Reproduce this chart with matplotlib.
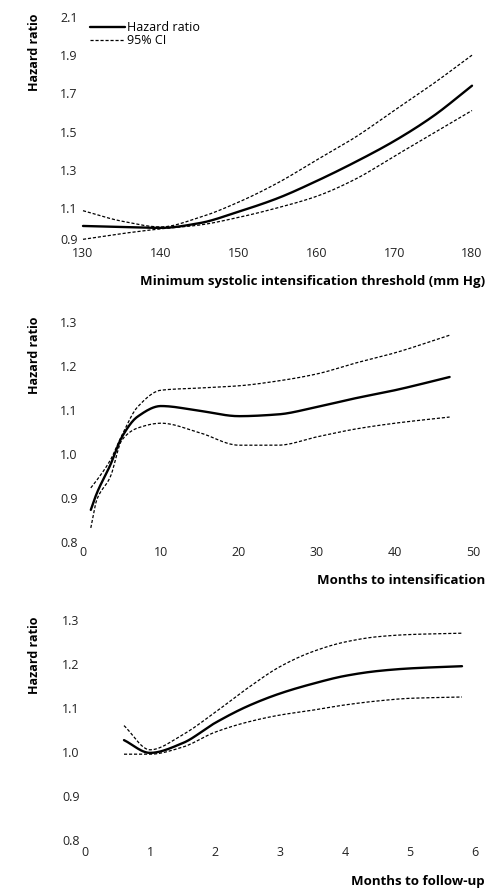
import matplotlib
matplotlib.use("Agg")
import matplotlib.pyplot as plt
import matplotlib.transforms as mtransforms
import numpy as np

plt.rcParams['font.family'] = ['Open Sans', 'DejaVu Sans']

# Panel 1: minimum systolic intensification threshold
p1_x = [130, 135, 140, 145, 150, 155, 160, 165, 170, 175, 180]
p1_hr = [1.005, 1.00, 0.995, 1.02, 1.08, 1.15, 1.24, 1.34, 1.45, 1.58, 1.74]
p1_up = [1.085, 1.03, 1.00, 1.05, 1.13, 1.23, 1.35, 1.47, 1.61, 1.75, 1.90]
p1_lo = [0.935, 0.965, 0.99, 1.01, 1.05, 1.10, 1.16, 1.25, 1.37, 1.49, 1.61]

# Panel 2: months to intensification
p2_x = [1, 1.75, 3.5, 5, 7, 10, 15, 20, 25, 30, 35, 40, 47]
p2_hr = [0.873, 0.91, 0.975, 1.039, 1.085, 1.109, 1.098, 1.086, 1.09, 1.107, 1.127, 1.145, 1.175]
p2_up = [0.923, 0.94, 0.986, 1.043, 1.107, 1.145, 1.15, 1.155, 1.166, 1.182, 1.207, 1.23, 1.27]
p2_lo = [0.832, 0.895, 0.948, 1.032, 1.059, 1.07, 1.048, 1.02, 1.02, 1.039, 1.057, 1.07, 1.084]

# Panel 3: months to follow-up
p3_x = [0.6, 1.0, 1.5, 2.0, 2.5, 3.0, 3.5, 4.0, 4.5, 5.0, 5.8]
p3_hr = [1.027, 0.998, 1.02, 1.066, 1.104, 1.133, 1.155, 1.173, 1.184, 1.19, 1.195]
p3_up = [1.06, 1.005, 1.039, 1.09, 1.145, 1.194, 1.228, 1.25, 1.262, 1.267, 1.27]
p3_lo = [0.995, 0.995, 1.011, 1.045, 1.068, 1.084, 1.095, 1.107, 1.116, 1.122, 1.125]

p1_xticks = [130, 140, 150, 160, 170, 180]
p1_yticks = [0.9, 1.1, 1.3, 1.5, 1.7, 1.9, 2.1]
p2_xticks = [0, 10, 20, 30, 40, 50]
p2_yticks = [0.8, 0.9, 1.0, 1.1, 1.2, 1.3]
p3_xticks = [0, 1, 2, 3, 4, 5, 6]
p3_yticks = [0.8, 0.9, 1.0, 1.1, 1.2, 1.3]

xlabels = ["Minimum systolic intensification threshold (mm Hg)",
           "Months to intensification",
           "Months to follow-up"]

W, H = 490, 891
fig = plt.figure(figsize=(W / 100, H / 100), dpi=100)

def ax_at(x0, x1, ytop, ybot):
    return fig.add_axes([x0 / W, 1 - ybot / H, (x1 - x0) / W, (ybot - ytop) / H])

def smooth(x, y):
    x = np.asarray(x, float); y = np.asarray(y, float)
    xs = np.linspace(x[0], x[-1], 300)
    h = np.diff(x); d = np.diff(y) / h
    m = np.zeros_like(y)
    for i in range(1, len(x) - 1):
        if d[i - 1] * d[i] > 0:
            w1 = 2 * h[i] + h[i - 1]; w2 = h[i] + 2 * h[i - 1]
            m[i] = (w1 + w2) / (w1 / d[i - 1] + w2 / d[i])
    m[0] = d[0]; m[-1] = d[-1]
    ys = np.empty_like(xs)
    for j, xv in enumerate(xs):
        i = min(np.searchsorted(x, xv, side='right') - 1, len(x) - 2)
        t = (xv - x[i]) / h[i]
        h00 = 2*t**3 - 3*t**2 + 1; h10 = t**3 - 2*t**2 + t
        h01 = -2*t**3 + 3*t**2; h11 = t**3 - t**2
        ys[j] = h00*y[i] + h10*h[i]*m[i] + h01*y[i+1] + h11*h[i]*m[i+1]
    return xs, ys

panels = [
    (ax_at(83, 472, 17, 246), p1_x, p1_hr, p1_up, p1_lo, p1_xticks, p1_yticks, (130, 180), (0.9, 2.1), 1),
    (ax_at(83, 473, 322, 542), p2_x, p2_hr, p2_up, p2_lo, p2_xticks, p2_yticks, (0, 50), (0.8, 1.3), 3),
    (ax_at(85, 475, 620, 840), p3_x, p3_hr, p3_up, p3_lo, p3_xticks, p3_yticks, (0, 6), (0.8, 1.3), 4),
]

for ax, x, hr, up, lo, xt, yt, xl, yl, xpad in panels:
    ax.plot(*smooth(x, hr), color='black', lw=1.7, solid_capstyle='round', clip_on=False, label='Hazard ratio')
    ax.plot(*smooth(x, up), color='black', lw=0.9, ls=(0, (2.5, 1.5)), clip_on=False, label='95% CI')
    ax.plot(*smooth(x, lo), color='black', lw=0.9, ls=(0, (2.5, 1.5)), clip_on=False)
    ax.set_xlim(*xl); ax.set_ylim(*yl)
    ax.set_xticks(xt); ax.set_yticks(yt)
    ax.set_xticklabels([str(v) for v in xt])
    ax.set_yticklabels([f"{v:.1f}" for v in yt])
    for s in ax.spines.values():
        s.set_visible(False)
    ax.tick_params(length=0, labelsize=9, colors='#222222')
    ax.tick_params(axis='y', pad=4)
    ax.tick_params(axis='x', pad=xpad)
    ax.patch.set_alpha(0)

# In the reference the lowest label of the first panel sits slightly raised
ax1 = panels[0][0]
fig.canvas.draw()
lab09 = ax1.get_yticklabels()[0]
lab09.set_transform(lab09.get_transform() + mtransforms.ScaledTranslation(0, 7 / 100, fig.dpi_scale_trans))

ax1.legend(loc='upper left', bbox_to_anchor=(90 / W, 1 - 21 / H), bbox_transform=fig.transFigure,
           frameon=False, fontsize=9, handlelength=2.8, handletextpad=0.15, labelspacing=0.0,
           borderpad=0, borderaxespad=0)

for yc in [52, 355, 655]:
    fig.text(35 / W, 1 - yc / H, "Hazard ratio", rotation=90, ha='center', va='center',
             fontsize=9, fontweight='bold')

for yc, lab in zip([282, 580, 882], xlabels):
    fig.text(485 / W, 1 - yc / H, lab, ha='right', va='center', fontsize=9.5, fontweight='bold')

fig.savefig("out.png", dpi=100, facecolor='white')
